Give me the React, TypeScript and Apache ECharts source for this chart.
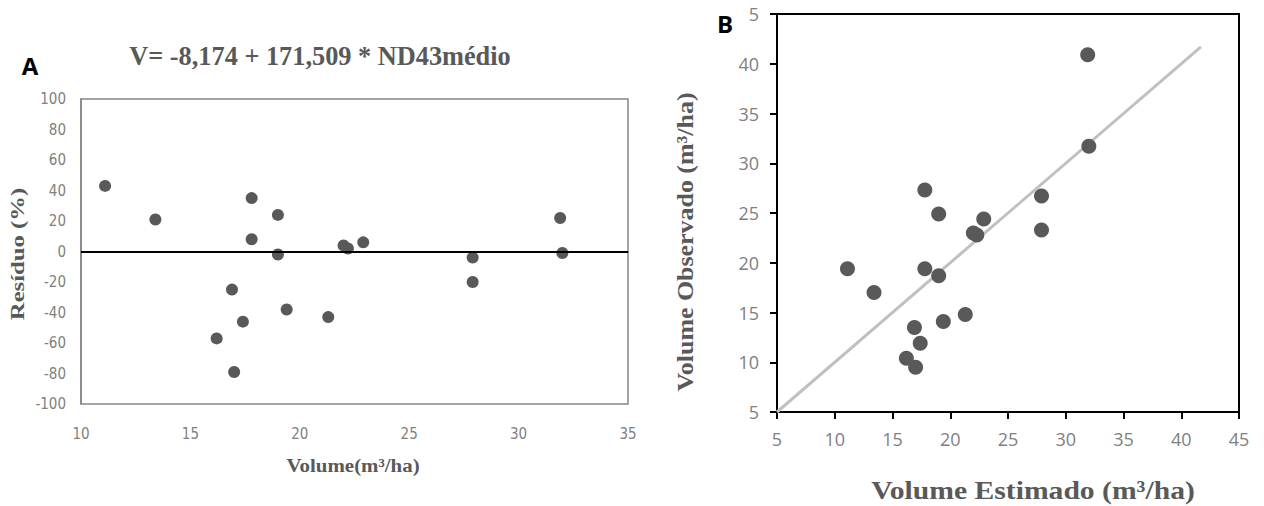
import React, { useEffect, useRef } from "react";
import * as echarts from "echarts";

// Panel A: residuals (%) vs estimated volume
const residualVolume = [11.1, 13.4, 17.8, 19.0, 17.8, 19.0, 22.0, 22.2, 22.9, 16.9, 16.2, 17.4, 17.0, 19.4, 21.3, 27.9, 27.9, 31.9, 32.0];
const residualPct = [43, 21, 35, 24, 8, -2, 4, 2, 6, -25, -57, -46, -79, -38, -43, -4, -20, 22, -1];

// Panel B: observed vs estimated volume
const estimatedVolume = [11.1, 13.4, 17.8, 19.0, 17.8, 19.0, 22.0, 22.3, 22.9, 16.9, 16.2, 17.4, 17.0, 19.4, 21.3, 27.9, 27.9, 31.9, 32.0];
const observedVolume = [19.4, 17.0, 27.3, 24.9, 19.4, 18.7, 23.0, 22.8, 24.4, 13.5, 10.4, 11.9, 9.5, 14.1, 14.8, 26.7, 23.3, 40.9, 31.7];

// 1:1 reference line endpoints
const refLineX = [5, 41.7];
const refLineY = [5, 41.7];

// In the reference the top y tick of panel B reads only "5" (the "4" is hidden by the panel letter)
const topTickLabelB = "5";

const titleText = "V= -8,174 + 171,509 * ND43médio";
const nameAX = "Volume(m³/ha)";
const nameAY = "Resíduo (%)";
const nameBX = "Volume Estimado (m³/ha)";
const nameBY = "Volume Observado (m³/ha)";

export default function App() {
  const ref = useRef<HTMLDivElement>(null);
  useEffect(() => {
    if (!ref.current) return;
    const chart = echarts.init(ref.current, undefined, { renderer: "svg" });
    const gray = "#595959";
    const tickGray = "#808080";
    const serif = "'Liberation Serif', 'Times New Roman', serif";
    const sans = "'Liberation Sans Narrow', 'DejaVu Sans Condensed', 'Open Sans', sans-serif";
    const sansB = "'Open Sans', 'Liberation Sans', sans-serif";
    const label = (text: string, x: number, y: number, size: number, opts: any = {}) => ({
      type: "text",
      x, y, z: 100,
      rotation: opts.rotation || 0,
      scaleX: opts.scaleX || 1,
      style: {
        text, fontSize: size, fontWeight: "bold", fontFamily: opts.family || serif,
        fill: opts.fill || gray, align: opts.align || "center", verticalAlign: "middle",
      },
    });
    chart.setOption({
      animation: false,
      backgroundColor: "#ffffff",
      grid: [
        { left: 81, top: 99, width: 547, height: 305, show: true, borderColor: "#868686", borderWidth: 1.5, backgroundColor: "transparent" },
        { left: 777, top: 14, width: 462, height: 398, show: true, borderColor: "#000000", borderWidth: 2, backgroundColor: "transparent" },
      ],
      graphic: [
        label(titleText, 320, 56, 28, { scaleX: 0.94 }),
        label(nameAX, 353, 465, 19, { scaleX: 1.1 }),
        label(nameAY, 18, 254, 19, { rotation: Math.PI / 2, scaleX: 1.3 }),
        label(nameBX, 1033, 490, 26, { scaleX: 1.14 }),
        label(nameBY, 685, 242, 24, { rotation: Math.PI / 2, scaleX: 1.08 }),
        label("A", 30, 65, 24, { family: sansB, fill: "#000000" }),
        label("B", 717, 23, 24, { family: sansB, fill: "#000000", align: "left" }),
      ],
      xAxis: [
        {
          gridIndex: 0, type: "value", min: 10, max: 35, interval: 5,
          axisLine: { show: true, lineStyle: { color: "#868686", width: 1.5 } },
          axisTick: { show: false }, splitLine: { show: false },
          axisLabel: { color: tickGray, fontFamily: sans, fontSize: 15, margin: 22 },
        },
        {
          gridIndex: 1, type: "value", min: 5, max: 45, interval: 5,
          axisLine: { show: true, lineStyle: { color: "#000000", width: 2 } },
          axisTick: { show: true, inside: false, length: 7, lineStyle: { color: "#000000", width: 2 } },
          splitLine: { show: false },
          axisLabel: { color: tickGray, fontFamily: sansB, fontSize: 18, margin: 18 },
        },
      ],
      yAxis: [
        {
          gridIndex: 0, type: "value", min: -100, max: 100, interval: 20,
          axisLine: { show: true, onZero: false, lineStyle: { color: "#868686", width: 1.5 } },
          axisTick: { show: false }, splitLine: { show: false },
          axisLabel: { color: tickGray, fontFamily: sans, fontSize: 15, margin: 15 },
        },
        {
          gridIndex: 1, type: "value", min: 5, max: 45, interval: 5,
          axisLine: { show: true, onZero: false, lineStyle: { color: "#000000", width: 2 } },
          axisTick: { show: true, inside: false, length: 7, lineStyle: { color: "#000000", width: 2 } },
          splitLine: { show: false },
          axisLabel: {
            color: tickGray, fontFamily: sansB, fontSize: 18, margin: 18,
            formatter: (v: number) => (v === 45 ? topTickLabelB : String(v)),
          },
        },
      ],
      series: [
        {
          type: "scatter", xAxisIndex: 0, yAxisIndex: 0, symbolSize: 12,
          itemStyle: { color: "#595959", opacity: 1 },
          data: residualVolume.map((v, i) => [v, residualPct[i]]),
          markLine: {
            silent: true, symbol: "none", label: { show: false },
            lineStyle: { color: "#000000", width: 2, type: "solid" },
            data: [{ yAxis: 0 }],
          },
          z: 3,
        },
        {
          type: "line", xAxisIndex: 1, yAxisIndex: 1, showSymbol: false, symbol: "none",
          lineStyle: { color: "#c0c0c0", width: 3 },
          data: refLineX.map((v, i) => [v, refLineY[i]]),
          z: 2,
        },
        {
          type: "scatter", xAxisIndex: 1, yAxisIndex: 1, symbolSize: 15,
          itemStyle: { color: "#595959", opacity: 1 },
          data: estimatedVolume.map((v, i) => [v, observedVolume[i]]),
          z: 3,
        },
      ],
    });
    return () => chart.dispose();
  }, []);
  return <div ref={ref} style={{ position: "fixed", left: 0, top: 0, width: 1264, height: 506 }} />;
}
